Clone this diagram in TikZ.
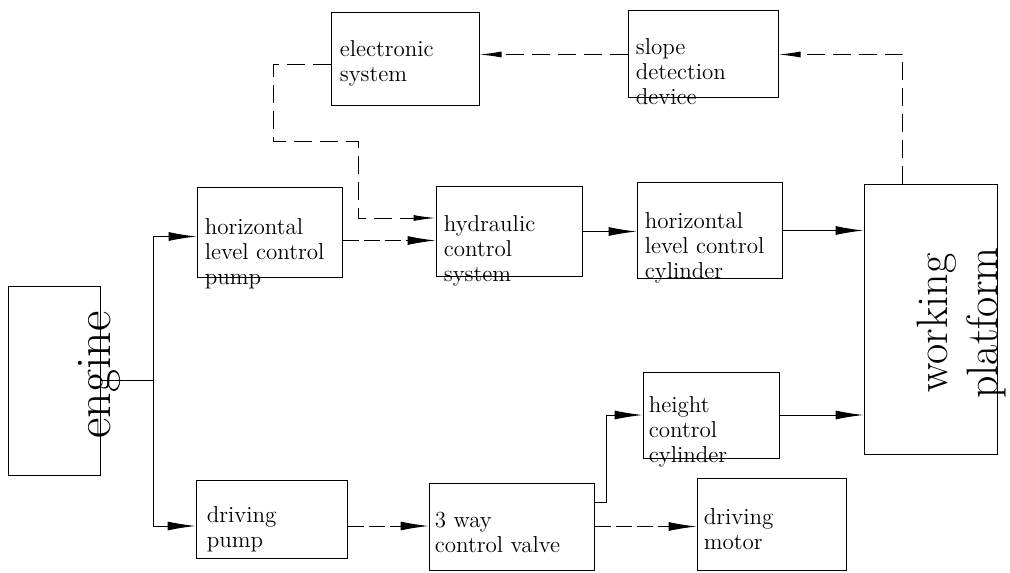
\documentclass[tikz,border=0pt]{standalone}
\usepackage{tikz}
\usetikzlibrary{positioning,arrows.meta,calc}

\tikzset{
  blk/.style={draw, rectangle, inner sep=0pt, line width=0.5pt},
  txt/.style={anchor=north west, inner sep=0pt, align=left, font=\fontsize{11.5}{12.5}\selectfont},
  flow/.style={line width=0.5pt, ->},
  link/.style={line width=0.5pt, dash pattern=on 8pt off 2.5pt, ->},
  sig/.style={line width=0.5pt, dash pattern=on 9pt off 4pt, -{Latex[length=11pt,width=3pt]}},
}

\begin{document}
\begin{tikzpicture}[x=0.5pt, y=-0.5pt, >={Latex[length=14pt,width=4.5pt]}]
	\useasboundingbox (0,0) rectangle (1010,572);

	% blocks
	\node[blk, minimum width=46pt, minimum height=94.5pt] (eng) at (54,380.5) {};
	\node[blk, minimum width=72.5pt, minimum height=44.5pt] (hp) at (269.5,232.5) {};
	\node[blk, minimum width=75.5pt, minimum height=39pt] (dp) at (271.5,519) {};
	\node[blk, minimum width=74pt, minimum height=46.5pt] (el) at (405,59.5) {};
	\node[blk, minimum width=75pt, minimum height=43.5pt] (sl) at (703,54.5) {};
	\node[blk, minimum width=73pt, minimum height=44.5pt] (hyd) at (509,231.5) {};
	\node[blk, minimum width=72.5pt, minimum height=47.5pt] (hcyl) at (709.5,230.5) {};
	\node[blk, minimum width=66.5pt, minimum height=134.5pt] (plat) at (930.5,319.5) {};
	\node[blk, minimum width=68pt, minimum height=43pt] (hgt) at (711,415) {};
	\node[blk, minimum width=82.5pt, minimum height=43.5pt] (vlv) at (511.5,526.5) {};
	\node[blk, minimum width=74.5pt, minimum height=46pt] (mot) at (771.5,524) {};

	% texts
	\node[rotate=90, anchor=base, inner sep=0pt, font=\fontsize{25}{28}\selectfont] (eng-t) at (110,375) {engine};
	\node[rotate=90, align=center, inner sep=0pt, font=\fontsize{22}{25}\selectfont] (plat-t) at (962,323) {working\\platform};
	\node[txt] (hp-t) at ($(hp.north west)+(8,31)$) {horizontal\\level control\\pump};
	\node[txt] (dp-t) at ($(dp.north west)+(11,27)$) {driving\\pump};
	\node[txt] (el-t) at ($(el.north west)+(9,28)$) {electronic\\system};
	\node[txt] (sl-t) at ($(sl.north west)+(8,28)$) {slope\\detection\\device};
	\node[txt] (hyd-t) at ($(hyd.north west)+(8,29)$) {hydraulic\\control\\system};
	\node[txt] (hcyl-t) at ($(hcyl.north west)+(8,30)$) {horizontal\\level control\\cylinder};
	\node[txt] (hgt-t) at ($(hgt.north west)+(6,25)$) {height\\control\\cylinder};
	\node[txt] (vlv-t) at ($(vlv.north west)+(6,29)$) {3 way\\control valve};
	\node[txt] (mot-t) at ($(mot.north west)+(7,31)$) {driving\\motor};

	\coordinate (j1) at (153,380.5);
	\coordinate (a1) at ($(hp.east)+(0,8)$);
	\coordinate (a2) at ($(dp.east)+(0,7)$);
	\coordinate (p1) at ($(plat.north)+(-28,0)$);
	\coordinate (c1) at (358,218);
	\coordinate (v1) at ($(vlv.east)+(0,-24)$);

	% engine to pumps
	\draw[line width=0.5pt] (eng.east) -- (j1);
	\draw[flow] (j1) |- ($(hp.west)+(0,4)$);
	\draw[flow] (j1) |- ($(dp.west)+(0,7)$);

	\path
		(a1) edge[link] (a1 -| hyd.west)
		(a2) edge[link] (a2 -| vlv.west)
		(vlv.east) edge[link] (vlv.east -| mot.west)
		(hyd.east) edge[flow] (hyd.east -| hcyl.west)
		(hcyl.east) edge[flow] (hcyl.east -| plat.west)
		(hgt.east) edge[flow] (hgt.east -| plat.west)
		(sl.west) edge[sig] (sl.west -| el.east);

	\draw[flow] (v1) -| ($(hgt.west)+(-36,0)$) -- (hgt.west);

	% feedback loop
	\draw[sig] (p1) |- (sl.east);
	\draw[sig] ($(el.west)+(0,5)$) -| (273,142) -| (c1) -- (c1 -| hyd.west);
\end{tikzpicture}
\end{document}
